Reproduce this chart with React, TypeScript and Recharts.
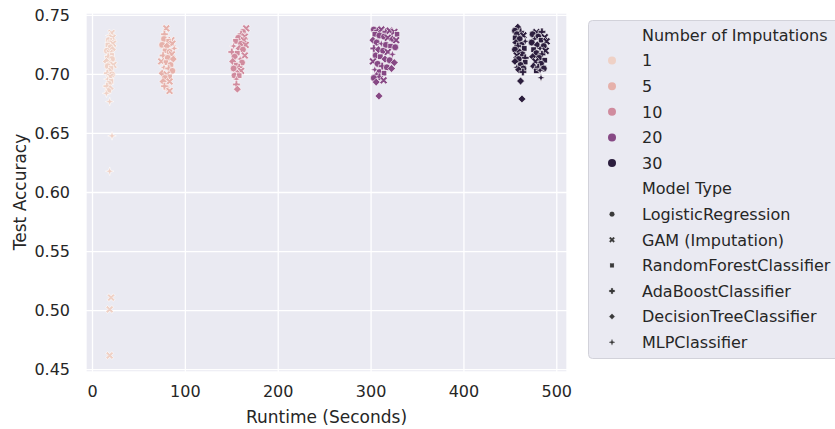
import React from 'react';
import { ScatterChart, Scatter, XAxis, YAxis, CartesianGrid, Label } from 'recharts';

const modelTypes = [
  'LogisticRegression',
  'GAM (Imputation)',
  'RandomForestClassifier',
  'AdaBoostClassifier',
  'DecisionTreeClassifier',
  'MLPClassifier',
];
const imputationLevels = [1, 5, 10, 20, 30];
const imputationColors = ['#efd1c6', '#e6b1ab', '#d08b9e', '#874985', '#2c1e3e'];

const xTicks = [0, 100, 200, 300, 400, 500];
const yTicks = [0.45, 0.5, 0.55, 0.6, 0.65, 0.7, 0.75];

// [runtime (s), test accuracy, model type index]
const imp1Points = [
  [20.5, 0.735, 1], [18.5, 0.733, 5], [21.5, 0.731, 1], [17.5, 0.729, 0], [20.0, 0.728, 3],
  [22.0, 0.726, 1], [16.5, 0.725, 2], [19.5, 0.723, 0], [21.5, 0.721, 4], [15.5, 0.72, 0],
  [18.5, 0.718, 1], [20.5, 0.716, 2], [17.0, 0.715, 3], [21.0, 0.713, 0], [15.0, 0.711, 4],
  [19.0, 0.71, 5], [22.5, 0.708, 1], [16.5, 0.707, 0], [20.0, 0.705, 2], [18.0, 0.703, 4],
  [16.0, 0.701, 3], [21.0, 0.7, 0], [19.0, 0.698, 1], [16.5, 0.696, 5], [20.0, 0.694, 2],
  [17.5, 0.692, 0], [15.5, 0.69, 3], [19.0, 0.688, 4], [17.0, 0.686, 0], [15.0, 0.684, 5],
  [18.5, 0.677, 5], [21.0, 0.648, 5], [18.5, 0.618, 5], [20.0, 0.511, 1], [18.5, 0.501, 1],
  [18.5, 0.462, 1],
];
const imp5Points = [
  [79.5, 0.739, 1], [77.5, 0.734, 3], [85.0, 0.729, 1], [77.0, 0.73, 0], [82.0, 0.728, 2],
  [86.0, 0.726, 1], [75.0, 0.725, 0], [80.0, 0.724, 4], [88.0, 0.722, 5], [78.0, 0.72, 2],
  [83.0, 0.719, 0], [85.5, 0.717, 1], [76.0, 0.716, 3], [81.0, 0.714, 0], [87.0, 0.713, 4],
  [74.0, 0.711, 1], [79.0, 0.71, 2], [84.0, 0.708, 0], [77.0, 0.706, 5], [82.0, 0.705, 3],
  [86.0, 0.703, 0], [75.0, 0.701, 4], [80.0, 0.7, 1], [83.0, 0.698, 2], [78.0, 0.697, 0],
  [76.0, 0.694, 4], [83.0, 0.694, 1], [79.5, 0.689, 0], [77.5, 0.69, 3], [83.0, 0.686, 1],
];
const imp10Points = [
  [165.5, 0.739, 1], [162.0, 0.736, 0], [160.0, 0.734, 3], [164.0, 0.732, 1], [157.0, 0.731, 0],
  [163.0, 0.729, 1], [154.0, 0.728, 2], [160.0, 0.726, 0], [165.0, 0.725, 1], [152.0, 0.724, 5],
  [158.0, 0.722, 4], [162.0, 0.721, 0], [150.0, 0.719, 3], [156.0, 0.718, 2], [164.0, 0.716, 1],
  [153.0, 0.715, 0], [159.0, 0.713, 5], [151.0, 0.711, 4], [161.0, 0.71, 0], [155.0, 0.708, 2],
  [158.0, 0.706, 3], [152.0, 0.705, 0], [160.0, 0.703, 1], [156.0, 0.701, 4], [153.0, 0.699, 0],
  [158.0, 0.699, 2], [155.0, 0.696, 5], [155.0, 0.6915, 3], [156.0, 0.6875, 4],
];
const imp20Points = [
  [303.0, 0.738, 0], [307.0, 0.737, 3], [311.0, 0.738, 1], [316.0, 0.736, 3], [320.0, 0.737, 1],
  [325.0, 0.736, 1], [328.0, 0.734, 2], [304.0, 0.734, 2], [309.0, 0.733, 0], [314.0, 0.732, 0],
  [318.0, 0.731, 1], [323.0, 0.73, 4], [327.0, 0.729, 1], [302.0, 0.729, 4], [306.0, 0.727, 0],
  [311.0, 0.726, 5], [316.0, 0.725, 0], [321.0, 0.724, 2], [326.0, 0.723, 0], [303.0, 0.722, 3],
  [308.0, 0.721, 4], [313.0, 0.72, 0], [318.0, 0.719, 1], [323.0, 0.717, 5], [305.0, 0.716, 0],
  [310.0, 0.715, 2], [315.0, 0.713, 4], [320.0, 0.712, 0], [325.0, 0.71, 4], [302.0, 0.711, 1],
  [307.0, 0.709, 0], [312.0, 0.707, 3], [317.0, 0.706, 0], [322.0, 0.705, 4], [304.0, 0.704, 5],
  [309.0, 0.702, 0], [314.0, 0.701, 2], [306.0, 0.699, 4], [309.0, 0.698, 3], [303.0, 0.697, 0],
  [313.5, 0.695, 1], [305.5, 0.6935, 4], [308.5, 0.6817, 4],
];
const imp30Points = [
  [458.0, 0.74, 4], [455.0, 0.737, 0], [461.0, 0.736, 3], [457.0, 0.734, 0], [464.0, 0.733, 1],
  [455.0, 0.731, 2], [460.0, 0.73, 0], [466.0, 0.728, 5], [456.0, 0.727, 4], [462.0, 0.725, 0],
  [458.0, 0.724, 3], [465.0, 0.722, 2], [455.0, 0.721, 0], [460.0, 0.719, 4], [463.0, 0.717, 0],
  [457.0, 0.716, 1], [466.0, 0.714, 3], [459.0, 0.713, 0], [455.0, 0.711, 4], [466.0, 0.7104, 2],
  [461.0, 0.708, 0], [457.0, 0.706, 5], [464.0, 0.705, 0], [459.0, 0.704, 4], [463.5, 0.702, 3],
  [461.0, 0.6944, 4], [462.5, 0.6792, 4],
  [478.0, 0.7357, 1], [484.0, 0.736, 3], [474.0, 0.734, 0], [487.0, 0.7315, 1], [480.0, 0.732, 0],
  [476.0, 0.73, 5], [483.0, 0.729, 2], [489.0, 0.728, 1], [473.0, 0.727, 0], [479.0, 0.725, 4],
  [486.0, 0.724, 0], [482.0, 0.722, 5], [475.0, 0.721, 2], [488.0, 0.72, 1], [478.0, 0.718, 0],
  [484.0, 0.717, 3], [474.0, 0.715, 4], [481.0, 0.714, 0], [487.0, 0.712, 2], [477.0, 0.711, 1],
  [483.0, 0.709, 0], [475.0, 0.707, 4], [480.0, 0.706, 3], [486.0, 0.705, 0], [478.0, 0.703, 2],
  [482.0, 0.7035, 5], [483.0, 0.6972, 5],
];

const groups = [imp1Points, imp5Points, imp10Points, imp20Points, imp30Points];

const FONT = '"DejaVu Sans", sans-serif';
const TEXT = '#262626';

function plusPoints(a: number, w: number) {
  const p = [
    [-w, -a], [w, -a], [w, -w], [a, -w], [a, w], [w, w],
    [w, a], [-w, a], [-w, w], [-a, w], [-a, -w], [-w, -w],
  ];
  return p.map(([x, y]) => `${x},${y}`).join(' ');
}

function starPoints(R: number, r: number) {
  const pts: string[] = [];
  for (let i = 0; i < 8; i++) {
    const ang = (Math.PI / 4) * i - Math.PI / 2;
    const rad = i % 2 === 0 ? R : r;
    pts.push(`${(Math.cos(ang) * rad).toFixed(2)},${(Math.sin(ang) * rad).toFixed(2)}`);
  }
  return pts.join(' ');
}

function Marker({ x, y, model, color, scale = 1, stroke = '#ffffff', sw = 0.6 }: any) {
  const common = { fill: color, stroke, strokeWidth: sw };
  const t = `translate(${x},${y}) scale(${scale})`;
  switch (model) {
    case 0:
      return <circle cx={x} cy={y} r={3.4 * scale} {...common} />;
    case 1:
      return <polygon transform={`${t} rotate(45)`} points={plusPoints(4.3, 1.25)} {...common} />;
    case 2:
      return <rect x={x - 2.7 * scale} y={y - 2.7 * scale} width={5.4 * scale} height={5.4 * scale} {...common} />;
    case 3:
      return <polygon transform={t} points={plusPoints(3.8, 1.3)} {...common} />;
    case 4:
      return <polygon transform={t} points="0,-3.9 3.9,0 0,3.9 -3.9,0" {...common} />;
    default:
      return <polygon transform={t} points={starPoints(4.3, 1.5)} {...common} />;
  }
}

const makeShape = (color: string) => (props: any) => {
  const { cx, cy, payload } = props;
  if (cx == null || cy == null) return <g />;
  return <Marker x={cx} y={cy} model={payload.model} color={color} />;
};

function LegendBox() {
  const rowH = 25.6;
  const rows: { kind: string; label: string; idx: number }[] = [
    { kind: 'title', label: 'Number of Imputations', idx: -1 },
    ...imputationLevels.map((l, i) => ({ kind: 'hue', label: String(l), idx: i })),
    { kind: 'title', label: 'Model Type', idx: -1 },
    ...modelTypes.map((m, i) => ({ kind: 'style', label: m, idx: i })),
  ];
  return (
    <svg
      width={260}
      height={345}
      style={{ position: 'absolute', left: 588, top: 20, overflow: 'visible' }}
    >
      <rect x={0.5} y={0.5} width={270} height={338} rx={4} fill="#eaeaf2" stroke="#d2d2da" />
      {rows.map((r, i) => {
        const cy = 15 + i * rowH;
        return (
          <g key={i}>
            {r.kind === 'hue' && <circle cx={24} cy={cy} r={4} fill={imputationColors[r.idx]} />}
            {r.kind === 'style' && (
              <Marker x={24} y={cy} model={r.idx} color="#3a3a3a" scale={0.7} stroke="#3a3a3a" sw={0.3} />
            )}
            <text x={54} y={cy} dy="0.36em" fontFamily={FONT} fontSize={16} fill={TEXT}>
              {r.label}
            </text>
          </g>
        );
      })}
    </svg>
  );
}

export default function App() {
  return (
    <div
      style={{
        position: 'fixed',
        left: 0,
        top: 0,
        width: 835,
        height: 429,
        overflow: 'hidden',
        background: '#ffffff',
      }}
    >
      <ScatterChart width={835} height={429} margin={{ top: 13, right: 268, bottom: 0, left: 0 }}>
        <CartesianGrid fill="#eaeaf2" fillOpacity={1} stroke="#ffffff" strokeWidth={1.3} />
        <XAxis
          type="number"
          dataKey="runtime"
          domain={[-7, 511]}
          ticks={xTicks}
          height={57}
          axisLine={false}
          tickLine={false}
          tickSize={0}
          tickMargin={14}
          tick={{ fill: TEXT, fontSize: 16, fontFamily: FONT }}
        >
          <Label
            value="Runtime (Seconds)"
            position="insideBottom"
            offset={6}
            style={{ fill: TEXT, fontSize: 17, fontFamily: FONT }}
          />
        </XAxis>
        <YAxis
          type="number"
          dataKey="accuracy"
          domain={[0.448, 0.752]}
          ticks={yTicks}
          width={86}
          axisLine={false}
          tickLine={false}
          tickSize={0}
          tickMargin={16}
          tickFormatter={(v: number) => v.toFixed(2)}
          tick={{ fill: TEXT, fontSize: 16, fontFamily: FONT }}
        >
          <Label
            content={() => (
              <text
                x={20}
                y={192}
                transform="rotate(-90 20 192)"
                textAnchor="middle"
                dy="0.36em"
                fill={TEXT}
                fontSize={17}
                fontFamily={FONT}
              >
                Test Accuracy
              </text>
            )}
          />
        </YAxis>
        {groups.map((pts, gi) => (
          <Scatter
            key={gi}
            name={String(imputationLevels[gi])}
            data={pts.map(([runtime, accuracy, model]) => ({ runtime, accuracy, model }))}
            fill={imputationColors[gi]}
            shape={makeShape(imputationColors[gi])}
            isAnimationActive={false}
          />
        ))}
      </ScatterChart>
      <LegendBox />
    </div>
  );
}
